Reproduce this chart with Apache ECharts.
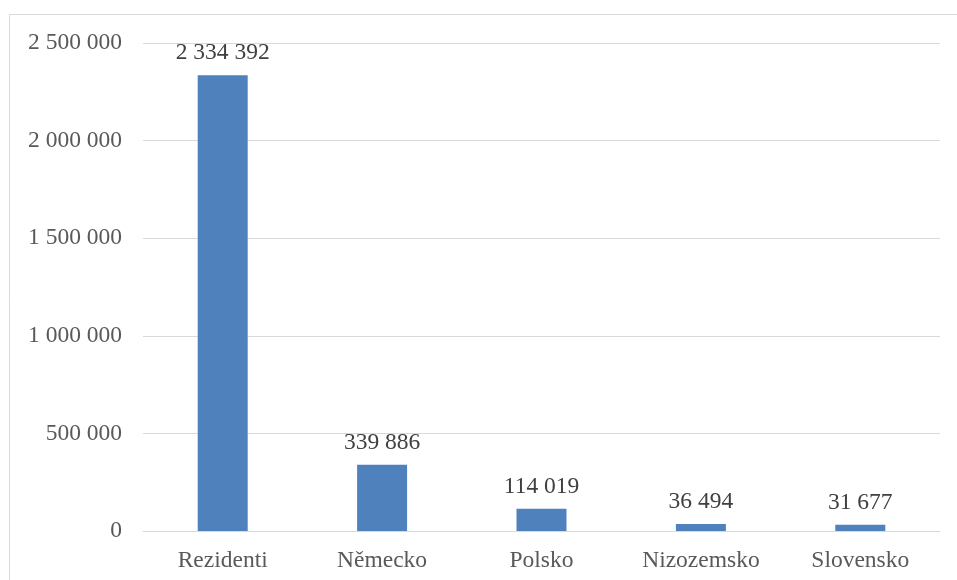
<!DOCTYPE html>
<html>
<head>
<meta charset="utf-8">
<script src="https://cdn.jsdelivr.net/npm/echarts@6/dist/echarts.min.js"></script>
<style>
html, body { margin: 0; padding: 0; background: #fff; }
#chart { width: 957px; height: 580px; }
</style>
</head>
<body>
<div id="chart"></div>
<script>
var categories = ['Rezidenti', 'Německo', 'Polsko', 'Nizozemsko', 'Slovensko'];
var visitors = [2334392, 339886, 114019, 36494, 31677];

var serif = "'Liberation Serif', 'DejaVu Serif', serif";

function fmt(v) {
    return String(v).replace(/\B(?=(\d{3})+(?!\d))/g, ' ');
}

var chart = echarts.init(document.getElementById('chart'));

var option = {
    animation: false,
    textStyle: { fontFamily: serif },
    graphic: [{
        type: 'rect',
        shape: { x: 9.5, y: 14.5, width: 1000, height: 600 },
        style: { fill: 'none', stroke: '#d9d9d9', lineWidth: 1 },
        silent: true
    }],
    grid: { left: 143, right: 17, top: 43, bottom: 49 },
    xAxis: {
        type: 'category',
        data: categories,
        axisLine: { lineStyle: { color: '#d9d9d9', width: 1 } },
        axisTick: { show: false },
        axisLabel: { color: '#595959', fontSize: 23.5, margin: 18, fontFamily: serif }
    },
    yAxis: {
        type: 'value',
        min: 0,
        max: 2500000,
        interval: 500000,
        axisLine: { show: false },
        axisTick: { show: false },
        splitLine: { lineStyle: { color: '#d9d9d9', width: 1 } },
        axisLabel: {
            color: '#595959', fontSize: 23.5, margin: 21, fontFamily: serif,
            formatter: function (v) { return fmt(v); }
        }
    },
    series: [{
        type: 'bar',
        data: visitors,
        barWidth: 50,
        itemStyle: { color: '#4f81bd' },
        label: {
            show: true,
            position: 'top',
            distance: 10,
            color: '#404040',
            fontSize: 23.5,
            fontFamily: serif,
            formatter: function (p) { return fmt(p.value); }
        }
    }]
};

chart.setOption(option);
window.addEventListener('resize', chart.resize);
</script>
</body>
</html>
